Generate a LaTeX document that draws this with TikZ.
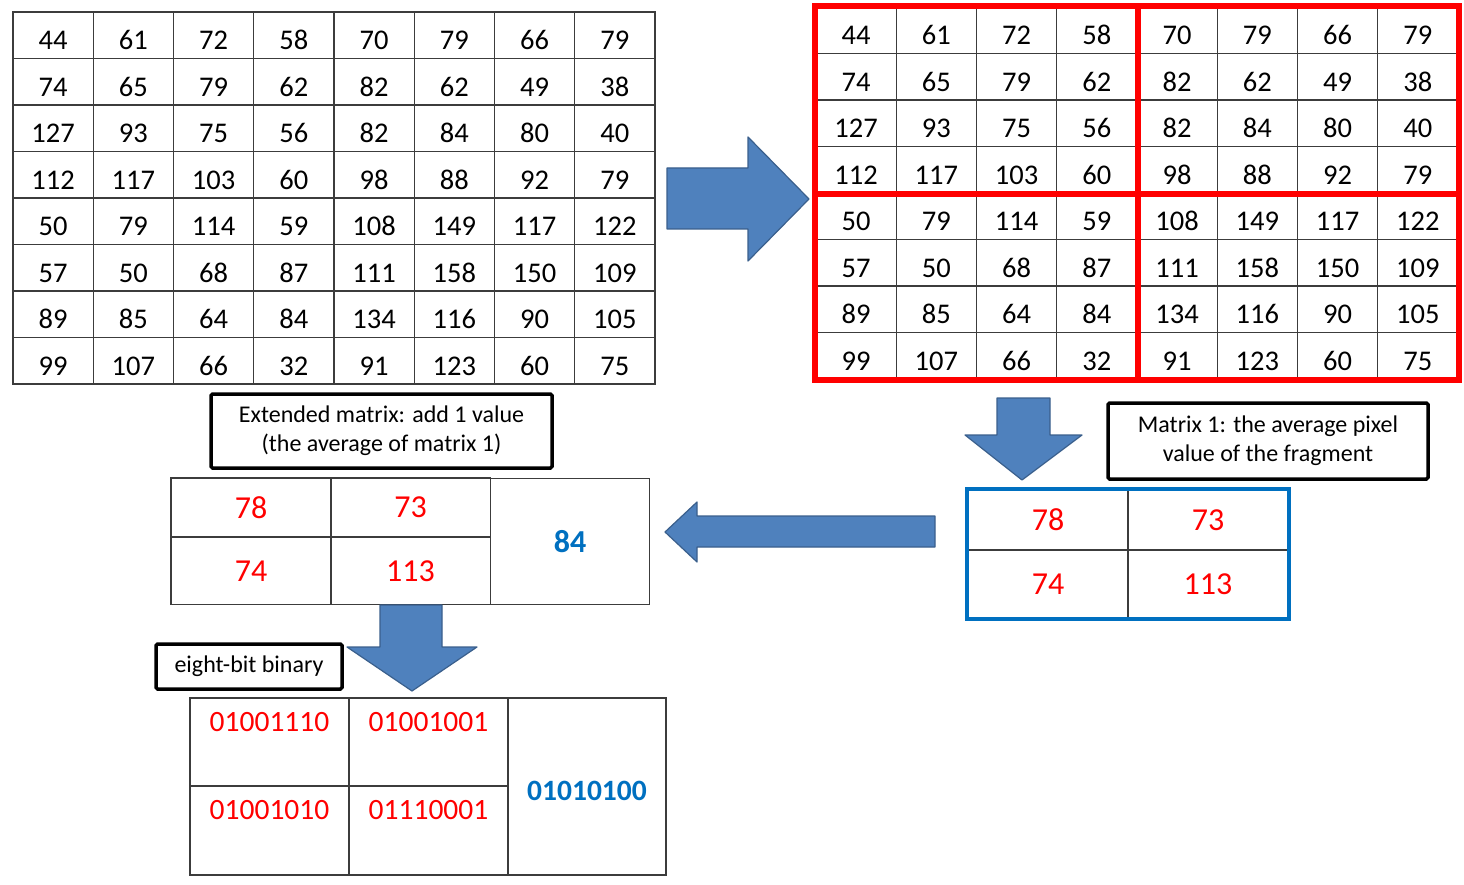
\documentclass[tikz,border=0pt]{standalone}
\usepackage{fontspec}
\setmainfont{Carlito}
\usetikzlibrary{positioning}
\definecolor{arrowfill}{HTML}{4F81BD}
\definecolor{arrowline}{HTML}{3A5F8C}
\definecolor{avgblue}{HTML}{0070C0}
\definecolor{gridgray}{HTML}{3C3C3C}
\definecolor{avgred}{HTML}{FF0000}
\def\pixrows{{44,61,72,58,70,79,66,79},{74,65,79,62,82,62,49,38},{127,93,75,56,82,84,80,40},{112,117,103,60,98,88,92,79},{50,79,114,59,108,149,117,122},{57,50,68,87,111,158,150,109},{89,85,64,84,134,116,90,105},{99,107,66,32,91,123,60,75}}

\begin{document}
\begin{tikzpicture}[x=1pt, y=-1pt,
    pixcell/.style={draw=gridgray, line width=1.2pt, minimum width=80.25pt, minimum height=46.5pt, inner sep=0pt, text height=29pt, text depth=0pt, font=\fontsize{28.5}{28.5}\selectfont},
    avgcell/.style={draw=gridgray, line width=1.2pt, minimum width=160pt, inner sep=0pt, text=avgred, font=\fontsize{32}{32}\selectfont},
    bincell/.style={draw=gridgray, line width=1.2pt, minimum width=159pt, inner sep=0pt},
    bintext/.style={inner sep=0pt, text=avgred, font=\fontsize{29.5}{29.5}\selectfont},
    notebox/.style={draw, line width=3.5pt, rounded corners=1.5pt, align=center, inner sep=0pt, font=\fontsize{24}{29}\selectfont},
    quadframe/.style={draw=avgred, line width=6pt},
    blockarrow/.style={fill=arrowfill, draw=arrowline, line width=1.2pt, line join=round}]
    \useasboundingbox (0,0) rectangle (1464,885);
    % the image and the same image cut into four fragments
    \foreach \row [count=\r] in \pixrows {
        \foreach \v [count=\c] in \row {
            \node[pixcell] (L-\r-\c) at ({\c*80.25-27.125}, {\r*46.5-11.25}) {\v};
            \node[pixcell] (R-\r-\c) at ({\c*80.25+775.875}, {\r*46.5-16.25}) {\v};
        }
    }
    \draw[quadframe] (R-1-1.north west) rectangle (R-8-8.south east);
    \draw[quadframe] (R-1-4.north east) -- (R-8-4.south east);
    \draw[quadframe] (R-4-1.south west) -- (R-4-8.south east);
    \draw[blockarrow] (667,168) -- (748,168) -- (748,137) -- (809,199) -- (748,261) -- (748,229) -- (667,229) -- cycle;

    % matrix 1
    \draw[blockarrow] (997,398) -- (1050,398) -- (1050,435) -- (1082,435) -- (1022,480) -- (965,435) -- (997,435) -- cycle;
    \node[notebox, minimum width=320pt, minimum height=76pt] (note1) at (1268,441) {Matrix 1: the average pixel\\value of the fragment};
    \node[avgcell, minimum height=60pt] (M-1-1) at (1048,520) {78};
    \node[avgcell, minimum height=60pt] (M-1-2) at (1208,520) {73};
    \node[avgcell, minimum height=68pt] (M-2-1) at (1048,584) {74};
    \node[avgcell, minimum height=68pt] (M-2-2) at (1208,584) {113};
    \draw[avgblue, line width=4pt] (M-1-1.north west) rectangle (M-2-2.south east);

    % extended matrix
    \draw[blockarrow] (935,516) -- (697,516) -- (697,502) -- (665,532) -- (697,562) -- (697,547) -- (935,547) -- cycle;
    \node[notebox, minimum width=341pt, minimum height=74pt] (note2) at (381.5,431) {Extended matrix: add 1 value\\(the average of matrix 1)};
    \node[avgcell, minimum height=59pt] (E-1-1) at (251,507.5) {78};
    \node[avgcell, minimum height=59pt] (E-1-2) at (410.5,507.5) {73};
    \node[avgcell, minimum height=67pt] (E-2-1) at (251,571) {74};
    \node[avgcell, minimum height=67pt] (E-2-2) at (410.5,571) {113};
    \node[avgcell, minimum width=159pt, minimum height=126pt, text=avgblue, font=\fontsize{32}{32}\selectfont\bfseries] (E-3) at (570,541.5) {84};

    % binary
    \draw[blockarrow] (380,605) -- (442,605) -- (442,647) -- (477,647) -- (412,691) -- (347,647) -- (380,647) -- cycle;
    \node[notebox, minimum width=186pt, minimum height=45pt] (note3) at (249,666.5) {eight-bit binary};
    \node[bincell, minimum height=88pt] (B-1-1) at (269.5,742) {};
    \node[bincell, minimum height=88pt] (B-1-2) at (428.5,742) {};
    \node[bincell, minimum height=89pt] (B-2-1) at (269.5,830.5) {};
    \node[bincell, minimum height=89pt] (B-2-2) at (428.5,830.5) {};
    \node[bincell, minimum width=158pt, minimum height=177pt] (B-3) at (587,786.5) {};
    \node[bintext, below=15pt of B-1-1.north] (b11) {01001110};
    \node[bintext, below=15pt of B-1-2.north] (b12) {01001001};
    \node[bintext, below=15pt of B-2-1.north] (b21) {01001010};
    \node[bintext, below=15pt of B-2-2.north] (b22) {01110001};
    \node[bintext, text=avgblue, font=\fontsize{29.5}{29.5}\selectfont\bfseries] (b3) at (587,791) {01010100};
\end{tikzpicture}
\end{document}
